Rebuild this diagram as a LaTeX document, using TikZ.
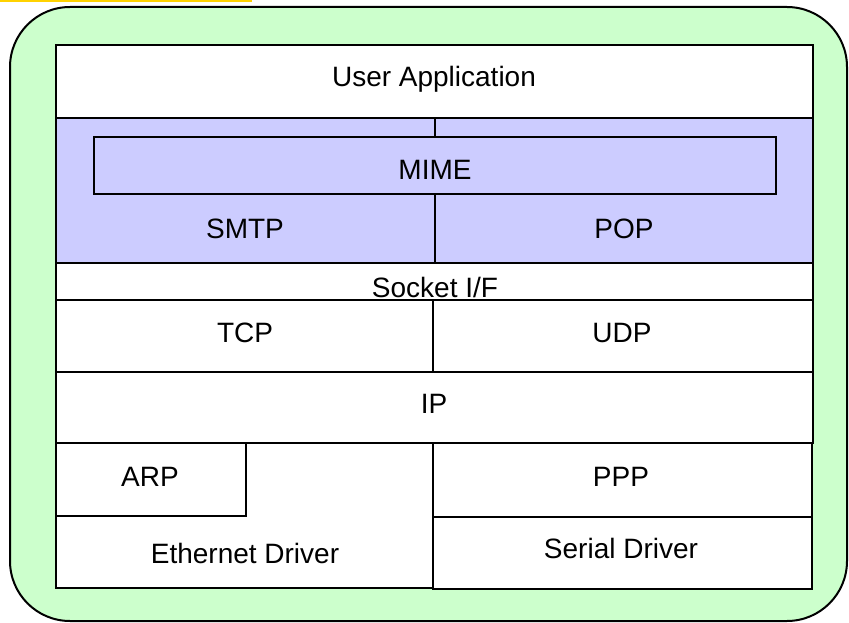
\documentclass[tikz,border=0pt]{standalone}
\usepackage{fontspec}
\setmainfont{Liberation Sans}
\definecolor{outergreen}{HTML}{CCFFCC}
\definecolor{layerblue}{HTML}{CCCCFF}
\definecolor{topyellow}{HTML}{FFD200}
\tikzset{
  layerbox/.style={draw=black, line width=2pt, fill=white, inner sep=0pt, outer sep=0pt},
  bluebox/.style={layerbox, fill=layerblue},
  lbl/.style={font=\fontsize{28}{31}\selectfont, anchor=base, inner sep=0pt},
}
\begin{document}
\begin{tikzpicture}[x=1pt, y=-1pt]
\useasboundingbox (0,0) rectangle (849,623);
% yellow strip
\fill[topyellow] (0,0) rectangle (252,2);
% outer green frame
\draw[line width=2pt, fill=outergreen, rounded corners=60pt] (10,7) rectangle (847,621);
% boxes
\draw[layerbox] (56,45) rectangle (813,118) node[pos=0.5, inner sep=0] (ua) {};
\draw[bluebox] (56,118) rectangle (435,263) node[pos=0.5, inner sep=0] (smtp) {};
\draw[bluebox] (435,118) rectangle (813,263) node[pos=0.5, inner sep=0] (pop) {};
\draw[bluebox] (94,137) rectangle (776,194) node[pos=0.5, inner sep=0] (mime) {};
\draw[layerbox] (56,263) rectangle (813,300) node[pos=0.5, inner sep=0] (sock) {};
\draw[layerbox] (56,300) rectangle (433,372) node[pos=0.5, inner sep=0] (tcp) {};
\draw[layerbox] (433,300) rectangle (813,372) node[pos=0.5, inner sep=0] (udp) {};
\draw[layerbox] (56,372) rectangle (813,443) node[pos=0.5, inner sep=0] (ip) {};
\draw[layerbox] (56,443) rectangle (433,588) node[pos=0.5, inner sep=0] (eth) {};
\draw[layerbox] (56,443) rectangle (246,516) node[pos=0.5, inner sep=0] (arp) {};
\draw[layerbox] (433,443) rectangle (812,517) node[pos=0.5, inner sep=0] (ppp) {};
\draw[layerbox] (433,517) rectangle (812,589) node[pos=0.5, inner sep=0] (ser) {};
% labels
\node[lbl] (tua) at (434,87) {User Application};
\node[lbl] (tmime) at (435,179) {MIME};
\node[lbl] (tsmtp) at (245,238) {SMTP};
\node[lbl] (tpop) at (624,238) {POP};
\node[lbl] (tsock) at (435,297) {Socket I/F};
\node[lbl] (ttcp) at (245,342) {TCP};
\node[lbl] (tudp) at (622,342) {UDP};
\node[lbl] (tip) at (434,413) {IP};
\node[lbl] (tarp) at (150,486) {ARP};
\node[lbl] (tppp) at (621,486) {PPP};
\node[lbl] (teth) at (245,563) {Ethernet Driver};
\node[lbl] (tser) at (621,558) {Serial Driver};
\end{tikzpicture}
\end{document}
